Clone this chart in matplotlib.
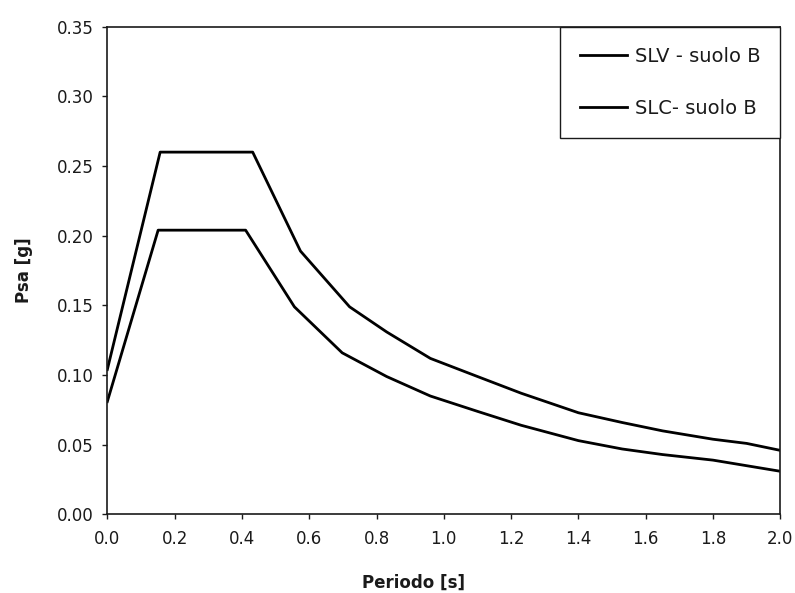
import matplotlib
matplotlib.use("Agg")
import matplotlib.pyplot as plt
from matplotlib.ticker import FormatStrFormatter, MultipleLocator

# Data
periodo_slc = [0.0, 0.157, 0.432, 0.574, 0.72, 0.83, 0.96, 1.1, 1.23, 1.4, 1.53, 1.65, 1.8, 1.9, 2.0]
psa_slc = [0.104, 0.260, 0.260, 0.189, 0.149, 0.131, 0.112, 0.099, 0.087, 0.073, 0.066, 0.060, 0.054, 0.051, 0.046]

periodo_slv = [0.0, 0.151, 0.411, 0.556, 0.698, 0.83, 0.96, 1.1, 1.23, 1.4, 1.53, 1.65, 1.8, 1.9, 2.0]
psa_slv = [0.081, 0.204, 0.204, 0.149, 0.116, 0.099, 0.085, 0.074, 0.064, 0.053, 0.047, 0.043, 0.039, 0.035, 0.031]

labels = ["SLV - suolo B", "SLC- suolo B"]

plt.rcParams['font.family'] = ['DejaVu Sans']
ink = '#1a1a1a'

fig = plt.figure(figsize=(7.95, 5.93), dpi=100)
ax = fig.add_axes([0.135, 0.1324, 0.8465, 0.8226])

ax.plot(periodo_slv, psa_slv, color='black', lw=2.0, label=labels[0])
ax.plot(periodo_slc, psa_slc, color='black', lw=2.0, label=labels[1])

ax.set_xlim(0, 2.0)
ax.set_ylim(0, 0.35)
ax.xaxis.set_major_locator(MultipleLocator(0.2))
ax.yaxis.set_major_locator(MultipleLocator(0.05))
ax.xaxis.set_major_formatter(FormatStrFormatter('%.1f'))
ax.yaxis.set_major_formatter(FormatStrFormatter('%.2f'))

for s in ax.spines.values():
    s.set_linewidth(1.2)
    s.set_color(ink)

ax.tick_params(axis='both', direction='out', length=3.5, width=1.0, colors=ink,
               labelsize=12, labelcolor=ink)
ax.tick_params(axis='y', pad=6.5)
ax.tick_params(axis='x', pad=8)

fig.text(24 / 795, 1 - 270 / 593, "Psa [g]", rotation=90, ha='center', va='center',
         fontsize=12, fontweight='bold', color=ink)
fig.text(413 / 795, 1 - 583 / 593, "Periodo [s]", ha='center', va='center',
         fontsize=12, fontweight='bold', color=ink)

leg = ax.legend(loc='upper right', bbox_to_anchor=(1.0, 1.0), borderaxespad=0,
                fontsize=14, frameon=True, fancybox=False, shadow=False,
                borderpad=1.03, labelspacing=1.7, handlelength=2.4, handletextpad=0.4)
leg.get_frame().set_edgecolor(ink)
leg.get_frame().set_linewidth(1.0)
leg.get_frame().set_alpha(1)
for t in leg.get_texts():
    t.set_color(ink)

fig.savefig("out.png", dpi=100)
